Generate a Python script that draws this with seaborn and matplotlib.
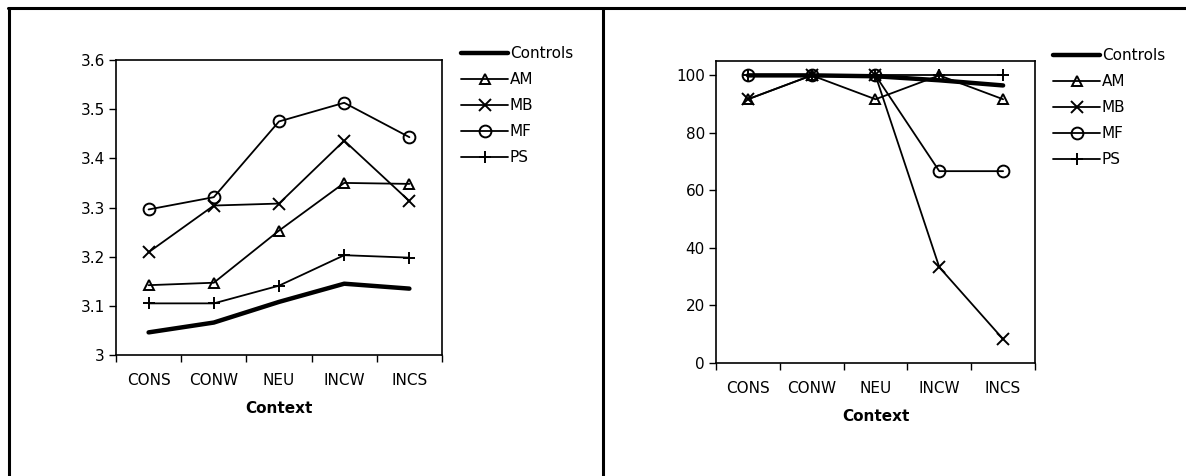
import matplotlib
matplotlib.use("Agg")
import matplotlib.pyplot as plt
import seaborn as sns
import pandas as pd
from matplotlib.lines import Line2D
from matplotlib.ticker import FixedLocator

# data
contexts = ["CONS", "CONW", "NEU", "INCW", "INCS"]
series_names = ["Controls", "AM", "MB", "MF", "PS"]

# left panel
left_controls = [3.046, 3.066, 3.108, 3.145, 3.135]
left_am = [3.142, 3.147, 3.253, 3.350, 3.348]
left_mb = [3.209, 3.304, 3.308, 3.436, 3.313]
left_mf = [3.296, 3.321, 3.475, 3.513, 3.443]
left_ps = [3.105, 3.105, 3.141, 3.203, 3.198]

# right panel
right_controls = [100, 100, 99.7, 98.3, 96.5]
right_am = [91.7, 100, 91.7, 100, 91.7]
right_mb = [91.7, 100, 100, 33.3, 8.3]
right_mf = [100, 100, 100, 66.7, 66.7]
right_ps = [100, 100, 100, 100, 100]

left_ticks = [3, 3.1, 3.2, 3.3, 3.4, 3.5, 3.6]
left_ticklabels = ["3", "3.1", "3.2", "3.3", "3.4", "3.5", "3.6"]
right_ticks = [0, 20, 40, 60, 80, 100]

styles = {
  "Controls": dict(marker=None, linewidth=3.2),
  "AM": dict(marker="^", markersize=7),
  "MB": dict(marker="x", markersize=8),
  "MF": dict(marker="o", markersize=8.5),
  "PS": dict(marker="+", markersize=9),
}

sns.set_theme(style="white")
plt.rcParams['font.family'] = ['DejaVu Sans']
plt.rcParams['text.color'] = 'black'
plt.rcParams['axes.labelcolor'] = 'black'
plt.rcParams['xtick.color'] = 'black'
plt.rcParams['ytick.color'] = 'black'

W, H = 1186, 476
fig = plt.figure(figsize=(W / 100, H / 100), dpi=100)


def px_box(x0, y0, x1, y1):
  # pixel box -> figure fraction rect
  return [x0 / W, 1 - y1 / H, (x1 - x0) / W, (y1 - y0) / H]


def draw_panel(ax, values, ylim, yticks, yticklabels, legend_xy):
  for name, vals in zip(series_names, values):
    df = pd.DataFrame({"Context": contexts, "value": vals})
    st = dict(linewidth=1.3, markeredgewidth=1.4)
    st.update(styles[name])
    sns.lineplot(data=df, x="Context", y="value", ax=ax, color="black",
                 markerfacecolor="none", markeredgecolor="black",
                 label=name, sort=False, **st)
  ax.set_xlim(-0.5, 4.5)
  ax.set_ylim(*ylim)
  ax.set_yticks(yticks)
  ax.set_yticklabels(yticklabels)
  ax.set_xticks(range(len(contexts)))
  ax.set_xticklabels(contexts)
  ax.xaxis.set_minor_locator(FixedLocator([i - 0.5 for i in range(len(contexts) + 1)]))
  ax.tick_params(axis="x", which="major", length=0, pad=13, labelsize=11, colors="black")
  ax.tick_params(axis="x", which="minor", bottom=True, length=5, width=1, color="black")
  ax.tick_params(axis="y", left=True, length=5, width=1, labelsize=11, colors="black", pad=3)
  ax.set_xlabel("Context", fontsize=11, fontweight="bold", labelpad=9, color="black")
  ax.set_ylabel("")
  for s in ax.spines.values():
    s.set_visible(True)
    s.set_color("black")
    s.set_linewidth(1.2)
  ax.legend(loc="upper left", bbox_to_anchor=legend_xy, bbox_transform=fig.transFigure,
            frameon=False, fontsize=11, handlelength=3.1, handletextpad=0.1,
            labelspacing=0.72, borderpad=0, borderaxespad=0, labelcolor="black")


ax1 = fig.add_axes(px_box(116, 60, 442, 355))
draw_panel(ax1, [left_controls, left_am, left_mb, left_mf, left_ps],
           (3, 3.6), left_ticks, left_ticklabels, (461 / W, 1 - 46 / H))

ax2 = fig.add_axes(px_box(716, 61, 1035, 363))
draw_panel(ax2, [right_controls, right_am, right_mb, right_mf, right_ps],
           (0, 105), right_ticks, [str(t) for t in right_ticks], (1053 / W, 1 - 48 / H))

# outer frame lines of the page
for xs, ys in [([8, W], [8, 8]), ([8.5, 8.5], [8, H]), ([603, 603], [8, H])]:
  fig.add_artist(Line2D([x / W for x in xs], [1 - y / H for y in ys],
                        color="black", linewidth=2.2, transform=fig.transFigure))

fig.savefig("out.png", dpi=100)
